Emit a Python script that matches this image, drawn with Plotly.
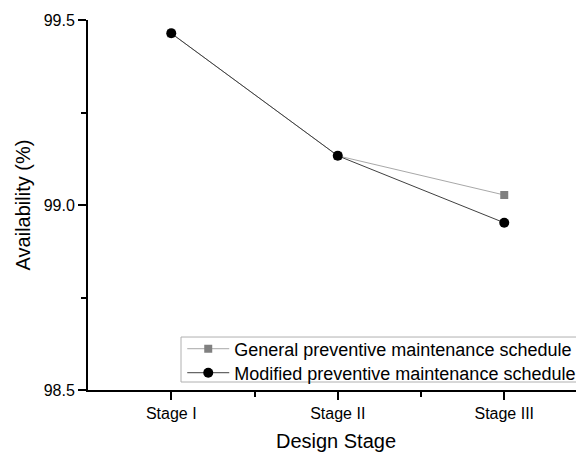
import plotly.graph_objects as go

stages = ["Stage I", "Stage II", "Stage III"]
general = [99.464, 99.133, 99.027]
modified = [99.464, 99.133, 98.952]
x_idx = list(range(len(stages)))

fig = go.Figure()
fig.add_trace(go.Scatter(
    x=x_idx, y=general, mode="lines+markers",
    name="General preventive maintenance schedule",
    line=dict(color="#a8a8a8", width=1),
    marker=dict(symbol="square", size=8, color="#808080"),
    legend="legend",
))
fig.add_trace(go.Scatter(
    x=x_idx, y=modified, mode="lines+markers",
    name="Modified preventive maintenance schedule",
    line=dict(color="#404040", width=1),
    marker=dict(symbol="circle", size=10, color="black"),
    legend="legend2",
))

font_family = "Liberation Sans, Arial, sans-serif"
leg_common = dict(
    xanchor="left", yanchor="middle",
    borderwidth=0, bgcolor="rgba(0,0,0,0)",
    font=dict(size=18, family=font_family, color="black"),
    itemwidth=42,
)

# legend frame
fig.add_shape(type="rect", xref="paper", yref="paper",
              x0=0.1875, x1=1.1, y0=0.0216, y1=0.1432,
              line=dict(color="#b0b0b0", width=1), fillcolor="white", layer="below")

fig.update_layout(
    width=576, height=444,
    margin=dict(l=80, r=0, t=12, b=62, autoexpand=False),
    paper_bgcolor="white", plot_bgcolor="white",
    font=dict(family=font_family, color="black"),
    showlegend=True,
    legend=dict(x=0.19, y=0.1108, **leg_common),
    legend2=dict(x=0.19, y=0.0459, **leg_common),
    xaxis=dict(
        range=[-0.5, 2.479], tickmode="array", tickvals=x_idx, ticktext=stages,
        showline=True, linecolor="black", linewidth=2, mirror=False,
        ticks="outside", ticklen=8, tickwidth=1.5, tickcolor="black",
        minor=dict(tickvals=[0.5, 1.5], ticks="outside", ticklen=5, tickwidth=1.5, tickcolor="black"),
        showgrid=False, zeroline=False,
        tickfont=dict(size=16),
        title=dict(text="Design Stage", font=dict(size=20), standoff=15),
    ),
    yaxis=dict(
        range=[98.5, 99.5], tickmode="array", tickvals=[98.5, 99.0, 99.5],
        ticktext=["98.5", "99.0", "99.5"],
        showline=True, linecolor="black", linewidth=2, mirror=False,
        ticks="outside", ticklen=8, tickwidth=1.5, tickcolor="black",
        minor=dict(tickvals=[98.75, 99.25], ticks="outside", ticklen=5, tickwidth=1.5, tickcolor="black"),
        showgrid=False, zeroline=False,
        tickfont=dict(size=16),
        title=dict(text="Availability (%)", font=dict(size=20), standoff=8),
    ),
)

fig.write_html("out.html")
